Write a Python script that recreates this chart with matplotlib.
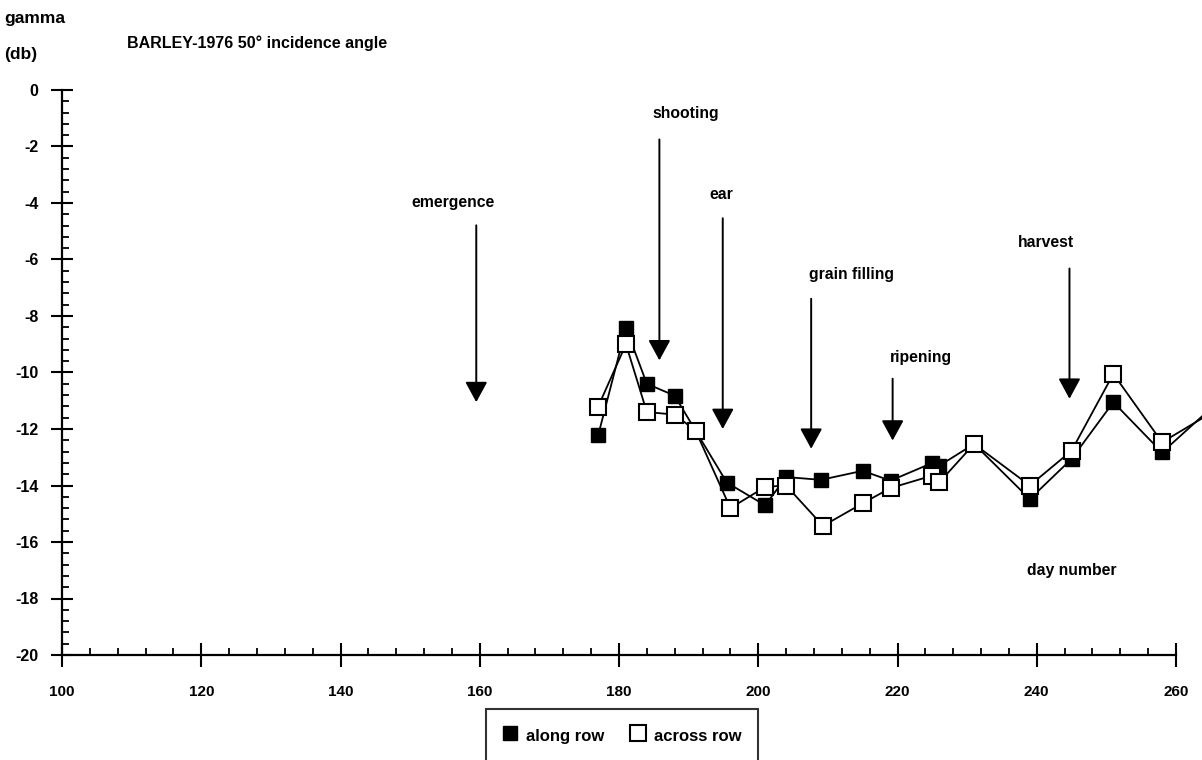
import matplotlib
matplotlib.use("Agg")
import matplotlib.pyplot as plt
from matplotlib.lines import Line2D

plt.rcParams['font.family'] = ['Liberation Sans', 'DejaVu Sans']
plt.rcParams['font.weight'] = 'bold'

# ---- data ----
along_days = [177, 181, 184, 188, 191, 195.5, 201, 204, 209, 215, 219, 225, 226, 231, 239, 245, 251, 258, 265]
along_vals = [-12.23, -8.42, -10.40, -10.82, -12.06, -13.9, -14.7, -13.7, -13.8, -13.48, -13.83, -13.2, -13.3, -12.53, -14.48, -13.06, -11.05, -12.83, -11.27]
across_days = [177, 181, 184, 188, 191, 196, 201, 204, 209.3, 215, 219, 225, 226, 231, 239, 245, 251, 258, 265]
across_vals = [-11.21, -9.0, -11.4, -11.49, -12.06, -14.8, -14.05, -14.0, -15.43, -14.63, -14.09, -13.65, -13.89, -12.53, -14.0, -12.77, -10.05, -12.47, -11.44]

stage_names = ['emergence', 'shooting', 'ear', 'grain filling', 'ripening', 'harvest']
stage_days = [159.5, 185.8, 194.9, 207.6, 219.3, 244.7]
arrow_top = [-4.79, -1.75, -4.54, -7.39, -10.22, -6.32]
arrow_tip = [-11.05, -9.57, -12.0, -12.7, -12.41, -10.93]
label_days = [156.1, 189.6, 194.7, 213.4, 223.4, 241.4]
label_vals = [-4.0, -0.84, -3.7, -6.52, -9.48, -5.41]

x_ticks = [100, 120, 140, 160, 180, 200, 220, 240, 260]
x_labels = ['100', '120', '140', '160', '180', '200', '220', '240', '260']
y_ticks = [0, -2, -4, -6, -8, -10, -12, -14, -16, -18, -20]
y_labels = ['0', '-2', '-4', '-6', '-8', '-10', '-12', '-14', '-16', '-18', '-20']

fig = plt.figure(figsize=(12.02, 7.6), dpi=100)
W, H = 1202, 760
x0, x1 = 62, 1176
y0, y1 = 90, 655
ax = fig.add_axes([x0 / W, 1 - y1 / H, (x1 - x0) / W, (y1 - y0) / H])
ax.set_xlim(100, 260)
ax.set_ylim(-20, 0)

for s in ['top', 'right']:
    ax.spines[s].set_visible(False)
for s in ['left', 'bottom']:
    ax.spines[s].set_linewidth(1.6)

ax.set_xticks(x_ticks)
ax.set_xticklabels(x_labels)
ax.set_yticks(y_ticks)
ax.set_yticklabels(y_labels)
ax.set_xticks([d for d in range(100, 261, 4) if d % 20], minor=True)
ax.set_yticks([-v * 0.4 for v in range(0, 51) if v % 5], minor=True)
ax.tick_params(axis='x', which='major', direction='inout', length=17, width=1.5, pad=13, labelsize=11)
ax.tick_params(axis='y', which='major', direction='inout', length=16, width=1.5, pad=9, labelsize=11.5)
ax.tick_params(axis='both', which='minor', direction='in', length=5, width=1.3)

# series
ax.plot(along_days, along_vals, color='black', lw=1.3, clip_on=False, zorder=3)
ax.plot(along_days[:-1], along_vals[:-1], ls='none', marker='s', ms=10.5,
        mfc='black', mec='black', mew=1.0, zorder=4, clip_on=False)
ax.plot(across_days, across_vals, color='black', lw=1.3, clip_on=False, zorder=5)
ax.plot(across_days[:-1], across_vals[:-1], ls='none', marker='s', ms=11,
        mfc='white', mec='black', mew=1.5, zorder=6, clip_on=False)

# arrows
for name, d, top, tip, ld, lv in zip(stage_names, stage_days, arrow_top, arrow_tip, label_days, label_vals):
    ax.annotate('', xy=(d, tip), xytext=(d, top),
                arrowprops=dict(arrowstyle='-|>,head_length=1.25,head_width=0.68',
                                mutation_scale=10, color='black', lw=1.4,
                                shrinkA=0, shrinkB=0))
    ax.text(ld, lv, name, ha='center', va='center', fontsize=11.3, fontweight='bold')

ax.text(245, -17.0, 'day number', ha='center', va='center', fontsize=11.3, fontweight='bold')

fig.text(4 / W, 1 - 18 / H, 'gamma', ha='left', va='center', fontsize=12.5, fontweight='bold')
fig.text(4 / W, 1 - 55 / H, '(db)', ha='left', va='center', fontsize=12.5, fontweight='bold')
fig.text(127 / W, 1 - 43 / H, 'BARLEY-1976 50° incidence angle', ha='left', va='center',
         fontsize=11.5, fontweight='bold')

handles = [Line2D([], [], ls='none', marker='s', ms=10.5, mfc='black', mec='black'),
           Line2D([], [], ls='none', marker='s', ms=11, mfc='white', mec='black', mew=1.5)]
leg = fig.legend(handles, ['along row', 'across row'], loc='upper left',
                 bbox_to_anchor=(486 / W, 1 - 709 / H), ncol=2, frameon=True,
                 fancybox=False, edgecolor='black', borderpad=1.0, handlelength=0.9,
                 handleheight=1.4, handletextpad=0.5, columnspacing=1.6,
                 prop={'size': 12, 'weight': 'bold'}, borderaxespad=0)
leg.get_frame().set_linewidth(1.5)

fig.savefig('out.png', dpi=100)
